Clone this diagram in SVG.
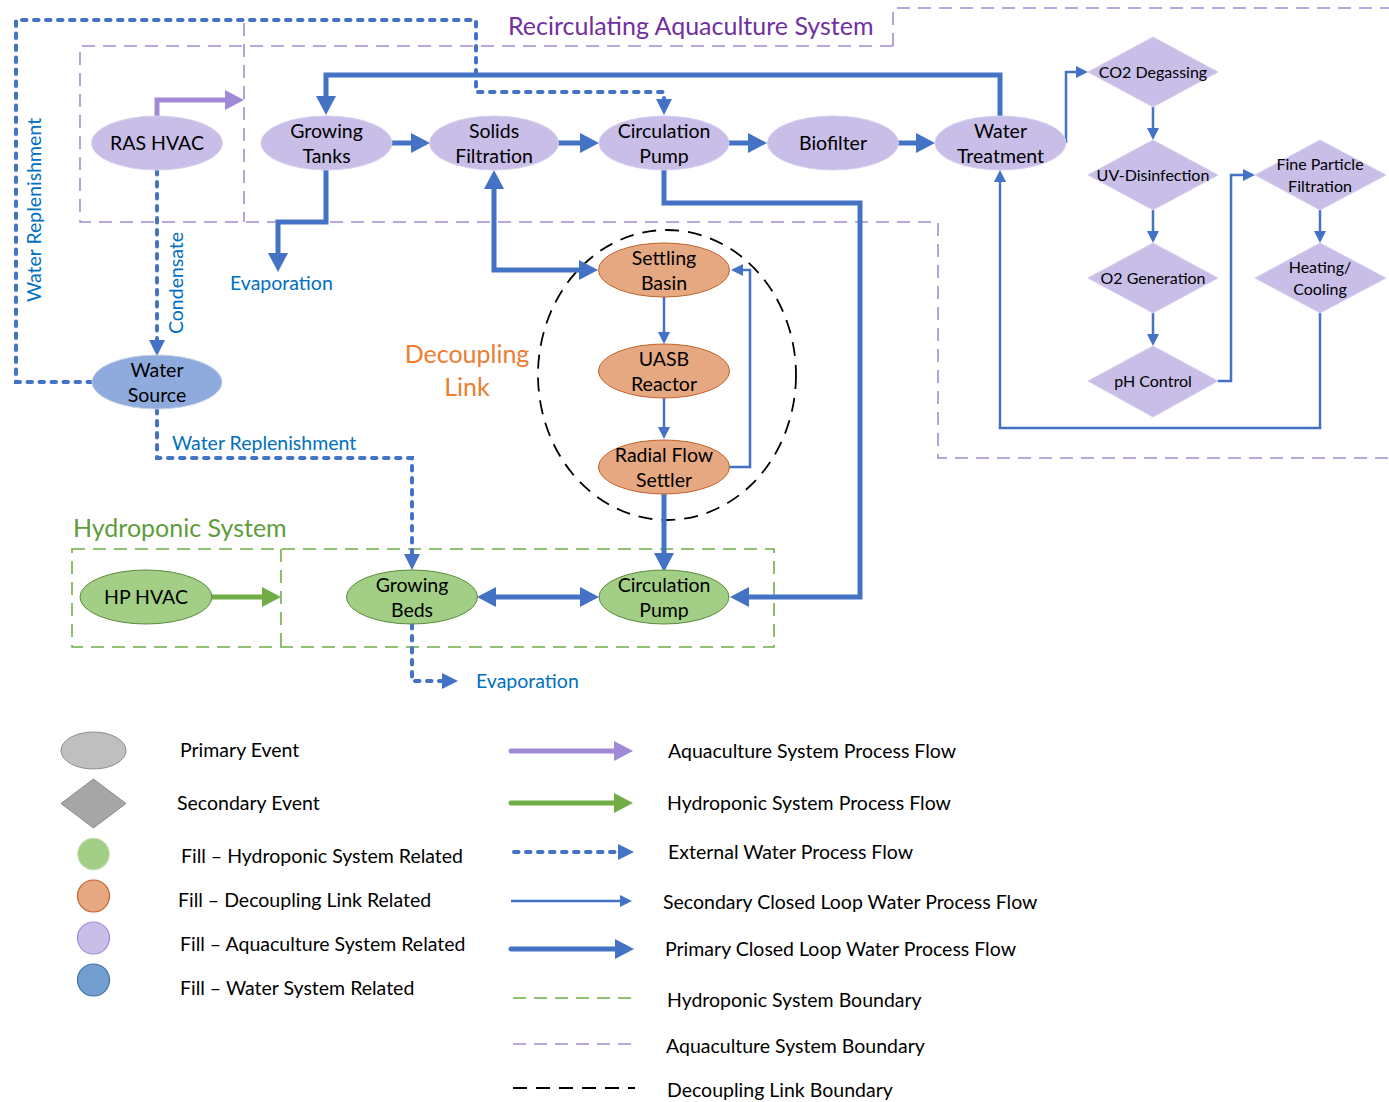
<svg xmlns="http://www.w3.org/2000/svg" width="1389" height="1102" viewBox="0 0 1389 1102">
  <style>
    text { font-family: Lato, "Open Sans", "Liberation Sans", sans-serif; }
    .lbl { font-size: 19.5px; fill: #000; text-anchor: middle; }
    .dlbl { font-size: 16px; fill: #000; text-anchor: middle; }
    .blue { font-size: 19.5px; fill: #0070C0; }
    .leg { font-size: 19.5px; fill: #000; }
    .title { font-size: 25px; }
    .aq { fill: #C8BEE8; stroke: #D6CFEE; stroke-width: 1; }
    .dc { fill: #E6A881; stroke: #C0622A; stroke-width: 1; }
    .hp { fill: #A3CE85; stroke: #5A8A3A; stroke-width: 1; }
    .ws { fill: #8FAADC; stroke: #C3D0EA; stroke-width: 1; }
    .thick { fill: none; stroke: #4472C4; stroke-width: 5; stroke-linecap: round; stroke-linejoin: miter; }
    .thin { fill: none; stroke: #4472C4; stroke-width: 2.5; stroke-linejoin: miter; }
    .dot { fill: none; stroke: #4472C4; stroke-width: 4; stroke-linecap: round; stroke-dasharray: 4.5 7.5; }
    .pflow { fill: none; stroke: #A08AD6; stroke-width: 5; stroke-linecap: round; }
    .gflow { fill: none; stroke: #70AD47; stroke-width: 5; stroke-linecap: round; }
    .bnd-aq { fill: none; stroke: #A48BD8; stroke-width: 1.6; stroke-dasharray: 13 8; }
    .bnd-hp { fill: none; stroke: #70AD47; stroke-width: 1.6; stroke-dasharray: 13 8; }
    .bnd-dc { fill: none; stroke: #000; stroke-width: 1.8; stroke-dasharray: 14 9; }
  </style>
  <defs>
    <marker id="ah-thick" viewBox="0 0 19 20" markerWidth="19" markerHeight="20" markerUnits="userSpaceOnUse" refX="1" refY="10" orient="auto-start-reverse">
      <path d="M0,0 L19,10 L0,20 z" fill="#4472C4"/>
    </marker>
    <marker id="ah-thin" viewBox="0 0 12 12" markerWidth="12" markerHeight="12" markerUnits="userSpaceOnUse" refX="1" refY="6" orient="auto-start-reverse">
      <path d="M0,0 L12,6 L0,12 z" fill="#4472C4"/>
    </marker>
    <marker id="ah-dot" viewBox="0 0 16 16" markerWidth="16" markerHeight="16" markerUnits="userSpaceOnUse" refX="1" refY="8" orient="auto">
      <path d="M0,0 L16,8 L0,16 z" fill="#4472C4"/>
    </marker>
    <marker id="ah-purple" viewBox="0 0 19 20" markerWidth="19" markerHeight="20" markerUnits="userSpaceOnUse" refX="1" refY="10" orient="auto">
      <path d="M0,0 L19,10 L0,20 z" fill="#A08AD6"/>
    </marker>
    <marker id="ah-green" viewBox="0 0 19 20" markerWidth="19" markerHeight="20" markerUnits="userSpaceOnUse" refX="1" refY="10" orient="auto">
      <path d="M0,0 L19,10 L0,20 z" fill="#70AD47"/>
    </marker>
  </defs>

  <rect width="1389" height="1102" fill="#fff"/>

  <!-- system boundaries -->
  <g id="boundaries">
    <path class="bnd-aq" d="M893,46 H80 V222 H938 V458 H1389"/>
    <path class="bnd-aq" d="M893,46 V8 H1389"/>
    <path class="bnd-aq" d="M244,23 V222"/>
    <rect class="bnd-hp" x="72" y="549" width="702" height="98"/>
    <path class="bnd-hp" d="M281,549 V647"/>
    <ellipse class="bnd-dc" cx="667" cy="375" rx="129" ry="145"/>
  </g>

  <!-- titles and free labels -->
  <g id="labels">
    <text class="title" x="508" y="35" fill="#7030A0">Recirculating Aquaculture System</text>
    <text class="title" x="73" y="537" fill="#5E9C3C">Hydroponic System</text>
    <text class="title" x="467" y="363" fill="#ED7D31" text-anchor="middle">Decoupling</text>
    <text class="title" x="467" y="396" fill="#ED7D31" text-anchor="middle">Link</text>
    <text class="blue" x="230" y="290">Evaporation</text>
    <text class="blue" x="476" y="688">Evaporation</text>
    <text class="blue" x="172" y="450">Water Replenishment</text>
    <text class="blue" transform="translate(41,210) rotate(-90)" text-anchor="middle">Water Replenishment</text>
    <text class="blue" transform="translate(183,283) rotate(-90)" text-anchor="middle">Condensate</text>
  </g>

  <!-- connectors -->
  <g id="connectors">
    <!-- primary closed loop -->
    <path class="thick" d="M392,143 H412" marker-end="url(#ah-thick)"/>
    <path class="thick" d="M558,143 H581" marker-end="url(#ah-thick)"/>
    <path class="thick" d="M729,143 H749" marker-end="url(#ah-thick)"/>
    <path class="thick" d="M898,143 H917" marker-end="url(#ah-thick)"/>
    <path class="thick" d="M1000,116 V75 H326 V97" marker-end="url(#ah-thick)"/>
    <path class="thick" d="M326,170 V222 H278 V254" marker-end="url(#ah-thick)"/>
    <path class="thick" d="M494,188 V270 H580" marker-start="url(#ah-thick)" marker-end="url(#ah-thick)"/>
    <path class="thick" d="M664,170 V203 H860 V597 H748" marker-end="url(#ah-thick)"/>
    <path class="thick" d="M664,494 V554" marker-end="url(#ah-thick)"/>
    <path class="thick" d="M495,597 H581" marker-start="url(#ah-thick)" marker-end="url(#ah-thick)"/>
    <!-- secondary closed loop -->
    <path class="thin" d="M664,297 V333" marker-end="url(#ah-thin)"/>
    <path class="thin" d="M664,398 V428" marker-end="url(#ah-thin)"/>
    <path class="thin" d="M729,467 H750 V270 H742" marker-end="url(#ah-thin)"/>
    <path class="thin" d="M1066,143 V72 H1077" marker-end="url(#ah-thin)"/>
    <path class="thin" d="M1153,107 V129" marker-end="url(#ah-thin)"/>
    <path class="thin" d="M1153,210 V232" marker-end="url(#ah-thin)"/>
    <path class="thin" d="M1153,313 V335" marker-end="url(#ah-thin)"/>
    <path class="thin" d="M1218,381 H1231 V175 H1244" marker-end="url(#ah-thin)"/>
    <path class="thin" d="M1320,210 V232" marker-end="url(#ah-thin)"/>
    <path class="thin" d="M1320,313 V428 H1000 V181" marker-end="url(#ah-thin)"/>
    <!-- external water -->
    <path class="dot" d="M92,382 H16 V20 H476 V92 H664 V100" marker-end="url(#ah-dot)"/>
    <path class="dot" d="M157,170 V341" marker-end="url(#ah-dot)"/>
    <path class="dot" d="M157,409 V458 H412 V555" marker-end="url(#ah-dot)"/>
    <path class="dot" d="M412,624 V681 H443" marker-end="url(#ah-dot)"/>
    <!-- HVAC flows -->
    <path class="pflow" d="M157,116 V100 H226" marker-end="url(#ah-purple)"/>
    <path class="gflow" d="M212,597 H263" marker-end="url(#ah-green)"/>
  </g>

  <!-- aquaculture system nodes -->
  <g id="ras-hvac"><ellipse class="aq" cx="157" cy="143" rx="65.5" ry="27"/><text class="lbl" x="157" y="150">RAS HVAC</text></g>
  <g id="growing-tanks"><ellipse class="aq" cx="326.5" cy="143" rx="65.5" ry="27"/><text class="lbl" x="326.5" y="138">Growing</text><text class="lbl" x="326.5" y="163">Tanks</text></g>
  <g id="solids-filtration"><ellipse class="aq" cx="494" cy="143" rx="64.5" ry="27"/><text class="lbl" x="494" y="138">Solids</text><text class="lbl" x="494" y="163">Filtration</text></g>
  <g id="ras-circulation-pump"><ellipse class="aq" cx="664" cy="143" rx="65" ry="27"/><text class="lbl" x="664" y="138">Circulation</text><text class="lbl" x="664" y="163">Pump</text></g>
  <g id="biofilter"><ellipse class="aq" cx="833" cy="143" rx="65.5" ry="27"/><text class="lbl" x="833" y="150">Biofilter</text></g>
  <g id="water-treatment"><ellipse class="aq" cx="1000.5" cy="143" rx="65.5" ry="27"/><text class="lbl" x="1000.5" y="138">Water</text><text class="lbl" x="1000.5" y="163">Treatment</text></g>

  <g id="co2-degassing"><polygon class="aq" points="1088,72 1153,37 1218,72 1153,107"/><text class="dlbl" x="1153" y="78">CO2 Degassing</text></g>
  <g id="uv-disinfection"><polygon class="aq" points="1088,175 1153,140 1218,175 1153,210"/><text class="dlbl" x="1153" y="181">UV-Disinfection</text></g>
  <g id="o2-generation"><polygon class="aq" points="1088,278 1153,243 1218,278 1153,313"/><text class="dlbl" x="1153" y="284">O2 Generation</text></g>
  <g id="ph-control"><polygon class="aq" points="1088,381 1153,346 1218,381 1153,417"/><text class="dlbl" x="1153" y="387">pH Control</text></g>
  <g id="fine-particle-filtration"><polygon class="aq" points="1255,175 1320,140 1386,175 1320,210"/><text class="dlbl" x="1320" y="170">Fine Particle</text><text class="dlbl" x="1320" y="192">Filtration</text></g>
  <g id="heating-cooling"><polygon class="aq" points="1255,278 1320,243 1386,278 1320,313"/><text class="dlbl" x="1320" y="273">Heating/</text><text class="dlbl" x="1320" y="295">Cooling</text></g>

  <!-- water source -->
  <g id="water-source"><ellipse class="ws" cx="157" cy="382" rx="65" ry="27"/><text class="lbl" x="157" y="377">Water</text><text class="lbl" x="157" y="402">Source</text></g>

  <!-- decoupling link nodes -->
  <g id="settling-basin"><ellipse class="dc" cx="664" cy="270" rx="65.5" ry="27"/><text class="lbl" x="664" y="265">Settling</text><text class="lbl" x="664" y="290">Basin</text></g>
  <g id="uasb-reactor"><ellipse class="dc" cx="664" cy="371" rx="65.5" ry="27"/><text class="lbl" x="664" y="366">UASB</text><text class="lbl" x="664" y="391">Reactor</text></g>
  <g id="radial-flow-settler"><ellipse class="dc" cx="664" cy="467" rx="65.5" ry="27"/><text class="lbl" x="664" y="462">Radial Flow</text><text class="lbl" x="664" y="487">Settler</text></g>

  <!-- hydroponic system nodes -->
  <g id="hp-hvac"><ellipse class="hp" cx="146" cy="597" rx="66" ry="27"/><text class="lbl" x="146" y="604">HP HVAC</text></g>
  <g id="growing-beds"><ellipse class="hp" cx="412" cy="597" rx="65.5" ry="27"/><text class="lbl" x="412" y="592">Growing</text><text class="lbl" x="412" y="617">Beds</text></g>
  <g id="hp-circulation-pump"><ellipse class="hp" cx="664" cy="597" rx="65" ry="27"/><text class="lbl" x="664" y="592">Circulation</text><text class="lbl" x="664" y="617">Pump</text></g>

  <!-- legend -->
  <g id="legend">
    <ellipse cx="93.5" cy="750.5" rx="32.5" ry="18.5" fill="#BFBFBF" stroke="#8C8C8C" stroke-width="1"/>
    <polygon points="61,803.5 93.5,779 126,803.5 93.5,828" fill="#A6A6A6" stroke="#8C8C8C" stroke-width="1"/>
    <circle cx="93.5" cy="854" r="16" fill="#A3CE85" stroke="#CFE3C2" stroke-width="1"/>
    <circle cx="93.5" cy="896" r="16" fill="#E6A881" stroke="#C0622A" stroke-width="1.2"/>
    <circle cx="93.5" cy="938" r="16" fill="#C8BEE8" stroke="#A48BD8" stroke-width="1.2"/>
    <circle cx="93.5" cy="980" r="16" fill="#729FCF" stroke="#41719C" stroke-width="1.2"/>
    <text class="leg" x="180" y="757">Primary Event</text>
    <text class="leg" x="177" y="810">Secondary Event</text>
    <text class="leg" x="181" y="863">Fill – Hydroponic System Related</text>
    <text class="leg" x="178" y="907">Fill – Decoupling Link Related</text>
    <text class="leg" x="180" y="951">Fill – Aquaculture System Related</text>
    <text class="leg" x="180" y="995">Fill – Water System Related</text>

    <path class="pflow" d="M511,751 H615" marker-end="url(#ah-purple)"/>
    <path class="gflow" d="M511,803 H615" marker-end="url(#ah-green)"/>
    <path class="dot" d="M514,852 H619" marker-end="url(#ah-dot)"/>
    <path class="thin" d="M511,901 H621" marker-end="url(#ah-thin)"/>
    <path class="thick" d="M511,949 H616" marker-end="url(#ah-thick)"/>
    <path class="bnd-hp" d="M513,998 H635"/>
    <path class="bnd-aq" d="M513,1044 H635"/>
    <path class="bnd-dc" d="M513,1088 H635"/>
    <text class="leg" x="668" y="758">Aquaculture System Process Flow</text>
    <text class="leg" x="667" y="810">Hydroponic System Process Flow</text>
    <text class="leg" x="668" y="859">External Water Process Flow</text>
    <text class="leg" x="663" y="909">Secondary Closed Loop Water Process Flow</text>
    <text class="leg" x="665" y="956">Primary Closed Loop Water Process Flow</text>
    <text class="leg" x="667" y="1007">Hydroponic System Boundary</text>
    <text class="leg" x="666" y="1053">Aquaculture System Boundary</text>
    <text class="leg" x="667" y="1097">Decoupling Link Boundary</text>
  </g>
</svg>
